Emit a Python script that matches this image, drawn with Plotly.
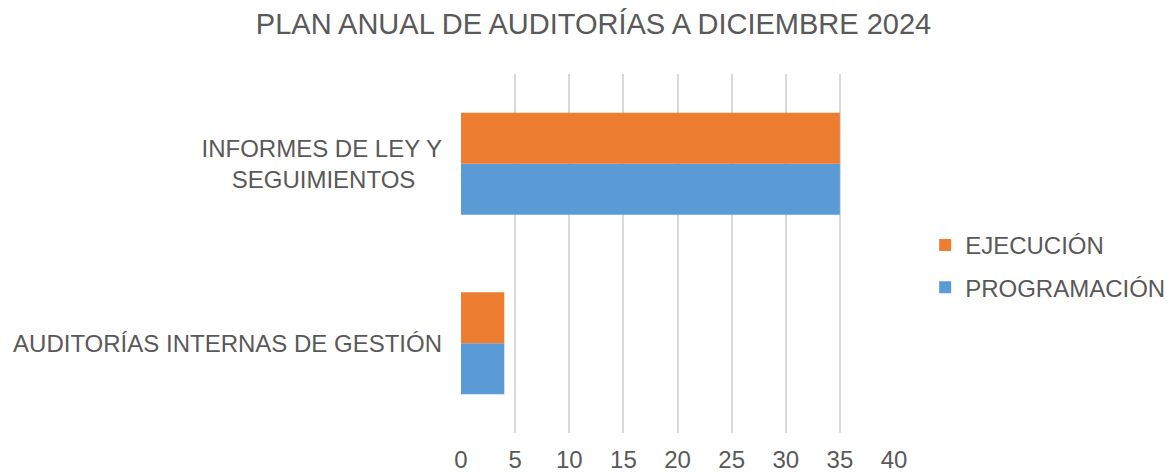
import plotly.graph_objects as go

categories = ["AUDITORÍAS INTERNAS DE GESTIÓN", "INFORMES DE LEY Y SEGUIMIENTOS"]
tick_labels = ["AUDITORÍAS INTERNAS DE GESTIÓN",
               "INFORMES DE LEY Y<br>SEGUIMIENTOS\u00a0\u00a0\u00a0\u00a0"]
programacion = [4, 35]
ejecucion = [4, 35]
x_ticks = [0, 5, 10, 15, 20, 25, 30, 35, 40]

FONT = "Liberation Sans, Arial, sans-serif"
GREY = "#595959"

fig = go.Figure()
fig.add_trace(go.Bar(y=categories, x=programacion, name="PROGRAMACIÓN",
                     orientation="h", marker_color="#5B9BD5",
                     marker_line_width=0, legendgroup="p", legendrank=2))
fig.add_trace(go.Bar(y=categories, x=ejecucion, name="EJECUCIÓN",
                     orientation="h", marker_color="#ED7D31",
                     marker_line_width=0, legendgroup="e", legendrank=1))

fig.update_layout(
    width=1176, height=472,
    paper_bgcolor="white", plot_bgcolor="white",
    margin=dict(l=461, r=282, t=74, b=39, autoexpand=False),
    barmode="group", bargap=0.432, bargroupgap=0,
    font=dict(family=FONT, size=24, color=GREY),
    title=dict(text="PLAN ANUAL DE AUDITORÍAS A DICIEMBRE 2024",
               x=0.5047, xanchor="center", y=0.949, yanchor="middle",
               font=dict(family=FONT, size=29, color=GREY)),
    legend=dict(x=1.072, xanchor="left", xref="paper",
                y=0.464, yanchor="middle",
                traceorder="grouped", tracegroupgap=8,
                font=dict(family=FONT, size=24, color=GREY),
                bgcolor="rgba(0,0,0,0)"),
    showlegend=True,
)
fig.update_xaxes(range=[0, 40], tickvals=x_ticks, ticktext=[str(v) for v in x_ticks],
                 showgrid=True, gridcolor="#d9d9d9", gridwidth=1.5,
                 zeroline=False, showline=False, ticks="", automargin=False,
                 tickfont=dict(size=24, color=GREY), ticklabelstandoff=10)
fig.update_yaxes(categoryorder="array", categoryarray=categories,
                 tickvals=categories, ticktext=tick_labels,
                 range=[-0.5, 1.5], showgrid=False, zeroline=False,
                 showline=False, ticks="", ticklabelstandoff=18, automargin=False,
                 tickfont=dict(size=24, color=GREY))

fig.write_html(
    "out.html",
    config={"displayModeBar": False},
    post_script="document.body.style.margin='0';document.body.style.overflow='hidden';",
)
